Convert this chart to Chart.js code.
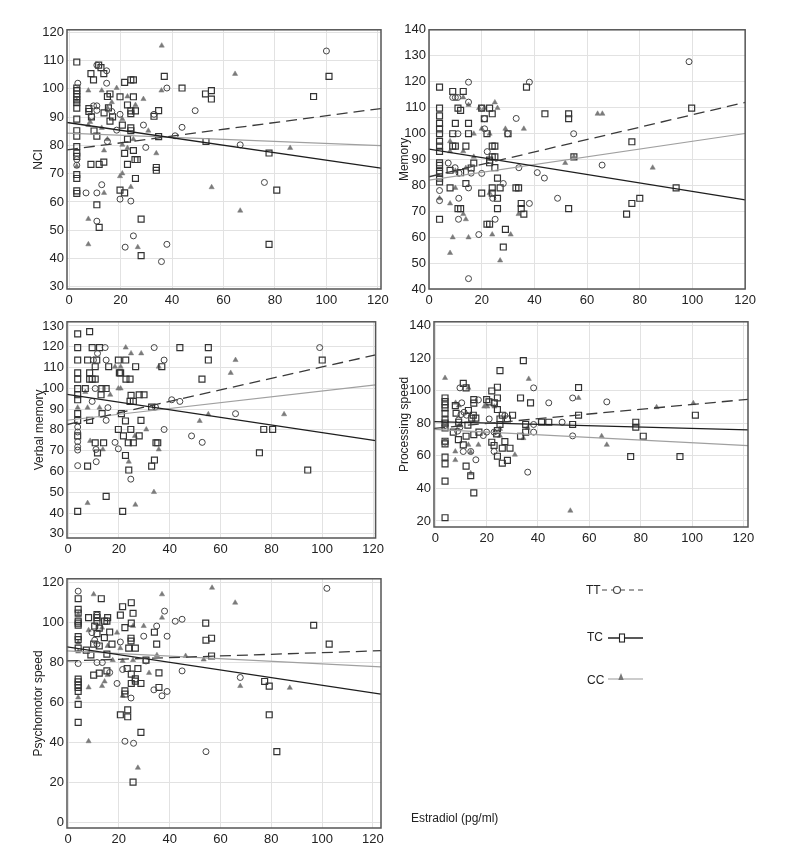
<!DOCTYPE html>
<html>
<head>
<meta charset="utf-8">
<script src="https://cdn.jsdelivr.net/npm/chart.js@4.4.0/dist/chart.umd.min.js"></script>
<style>
  body { margin: 0; background: #fff; width: 792px; height: 864px; position: relative; overflow: hidden; }
  canvas { position: absolute; }
  #overlay { position: absolute; left: 0; top: 0; }
  #overlay text { font-family: "Liberation Sans Narrow", "Liberation Sans", sans-serif; font-size: 12px; fill: #222; }
</style>
</head>
<body>
<canvas id="nci"></canvas>
<canvas id="memory"></canvas>
<canvas id="verbal"></canvas>
<canvas id="processing"></canvas>
<canvas id="psycho"></canvas>
<svg id="overlay" width="792" height="864">
  <text x="586" y="594">TT</text>
  <line x1="602" y1="590" x2="643" y2="590" stroke="#444" stroke-width="1.2" stroke-dasharray="5,4"/>
  <circle cx="617" cy="590" r="3.5" fill="#fff" stroke="#444" stroke-width="1.1"/>
  <text x="587" y="641">TC</text>
  <line x1="608" y1="638" x2="643" y2="638" stroke="#222" stroke-width="1.3"/>
  <rect x="619.5" y="634" width="5" height="8" fill="#fff" stroke="#222" stroke-width="1.1"/>
  <text x="587" y="684">CC</text>
  <line x1="608" y1="679" x2="643" y2="679" stroke="#999" stroke-width="1.2"/>
  <polygon points="621,673 618.3,680 623.7,680" fill="#777"/>
  <text x="411" y="822">Estradiol (pg/ml)</text>
</svg>
<script>
const FONT = '"Liberation Sans Narrow", "Liberation Sans", sans-serif';

const xTicks = [0, 20, 40, 60, 80, 100, 120];

// NCI
const nciTicks = [30, 40, 50, 60, 70, 80, 90, 100, 110, 120];
const nciTT = [[100,113.4],[3.4,102],[10.8,108.4],[14.6,106.4],[14.6,102],[9.5,94],[10.8,94],[10.8,92.4],[16.6,92],[19.8,91],[8.8,90.3],[18.5,85.4],[14.9,81.4],[28.9,87.2],[29.8,79.3],[38,100.3],[49,92.3],[43.9,86.4],[41.2,83.4],[66.5,80.2],[75.9,66.9],[6.6,63.2],[10.8,63.2],[12.7,66.1],[19.8,61],[24,60.3],[10.8,53.2],[25,48],[21.8,44],[38,45],[35.9,38.9],[33,91],[3,75],[3,73]];
const nciTC = [[3,109.5],[3,100.3],[3,99.4],[3,98.2],[3,97.3],[3,96.1],[3,95.1],[3,93.2],[3,89.3],[3,85.2],[3,83.3],[3,79.6],[3,77.3],[3,76.1],[3,69.7],[3,68.3],[3,63.9],[3,63],[8.5,105.4],[9.5,103.2],[11.5,108.4],[12.4,107.5],[13.5,105.4],[7.7,93],[7.7,92],[13.6,91.5],[8.7,90.1],[14.9,97.3],[15.9,98.2],[15.3,93.3],[16.9,90.1],[15.9,88.6],[9.7,85.1],[10.8,83.3],[8.5,73.3],[11.7,73.3],[13.5,74.1],[10.8,59],[11.7,51],[21.6,102.3],[19.8,97.2],[24,103.2],[25,103.2],[25,97.2],[22.7,94.3],[24,92.2],[24,91.2],[25.8,92.2],[20.7,87.2],[24,86.2],[24,85.2],[22.7,82.2],[25,78.2],[21.6,77.2],[25.6,75],[26.5,75],[22.7,73.3],[25.8,68.3],[19.8,64.2],[21.6,63.2],[28,53.9],[28,41],[37,104.4],[34.8,92.3],[33,90.3],[34.8,83.1],[33.9,72.2],[33.9,71.2],[43.9,100.3],[53,98.2],[55.3,99.4],[55.3,96.4],[53.2,81.4],[77.7,77.3],[80.7,64.2],[77.7,45],[95,97.3],[101,104.4]];
const nciCC = [[36,115.3],[64.5,105.3],[3,95.9],[7.5,99.4],[12.7,99.4],[18.5,100.3],[22.7,97.3],[28.9,96.4],[35.9,99.4],[16.6,95.3],[25.8,94.3],[14.9,93.3],[20.7,89.3],[8.2,88.3],[7.5,87.2],[12.7,86.2],[30.8,85.2],[14.9,82.2],[25,82.2],[13.6,78.2],[20.7,80.2],[22.7,79.1],[33.9,77.2],[19.8,69.1],[20.7,70.1],[24,65.3],[13.6,63.2],[3,72.6],[55.4,65.2],[66.5,56.9],[85.9,79.1],[7.5,54],[7.5,45],[26.7,44]];
const nciFits = [[78.5, 92.9], [88, 72.1], [84.3, 80]]; // TT, TC, CC at x=0 and x=120

// Memory
const memTicks = [40, 50, 60, 70, 80, 90, 100, 110, 120, 130, 140];
const memTT = [[98.7,127.7],[15,119.8],[38.1,119.8],[9,113.9],[10,113.9],[10.9,113.9],[15,112.1],[11,99.9],[20,109.8],[21.1,105.7],[22.1,93],[33.1,105.8],[29.8,99.9],[4,78],[4,74.1],[7.3,88.6],[9.9,86.8],[11.4,84.7],[16,84.7],[15,79],[11.3,75],[11.2,66.9],[20,84.6],[24.2,75],[25.1,66.9],[18.9,61],[28.2,80.7],[34.1,86.8],[38.1,73],[41.1,84.9],[43.8,82.8],[48.8,75],[54.9,99.9],[65.7,87.8],[15,44],[21.1,101.8]];
const memTC = [[4,117.9],[4,109.8],[4,106.8],[4,103.9],[4,101.8],[4,99.9],[4,97],[4,95.1],[4,93.1],[4,88.7],[4,87.7],[4,85.6],[4,84.6],[4,82.8],[4,81.3],[4,66.9],[9,116.2],[13,116.2],[9,99.9],[9,95.1],[10,95.1],[14,95.1],[10,103.9],[11,109.8],[12,108.9],[15,103.9],[15,99.9],[8,85.8],[12,84.9],[17,88.6],[16,86.7],[14,80.7],[8,79],[12,71],[11,71],[20,109.8],[23,109.8],[21,105.7],[24,107.6],[22,99.9],[24,95.1],[25,95.1],[24,91],[25,91],[23,89.7],[23,88.7],[25,86.8],[26,82.8],[20,77],[24,77],[24,79],[22,65],[23,65],[26,75],[26,71],[27,79],[29,63],[28.2,56.2],[30,99.9],[33,79],[34,79],[35,73],[35,71],[36,68.9],[37,117.9],[44,107.6],[53,107.6],[53,105.7],[55,91],[53,71],[75,68.9],[77,96.8],[77,73],[80,75],[93.8,79],[99.7,109.8]];
const memCC = [[13,113.9],[15,111],[19,109.8],[20,101.8],[21,109.8],[25,112],[26,109.8],[23,99.9],[17,99.9],[29,101.8],[36,101.8],[8,97],[8,93.1],[13,93.1],[17,91],[10,85.6],[14,86.7],[4,75],[8,73],[10,79],[13,68.9],[14,66.9],[9,59.9],[15,59.9],[8,53.9],[24,61],[31,61],[27,51],[23,77],[34,68.9],[51.7,88.6],[64,107.6],[65.8,107.6],[84.9,86.8],[55,91]];
const memFits = [[83.3, 112], [94, 74.4], [82, 100]];

// Verbal memory
const verbTicks = [30, 40, 50, 60, 70, 80, 90, 100, 110, 120, 130];
const verbTT = [[99,119.6],[33.9,119.6],[37.8,113.6],[14.6,119.6],[11.6,116.8],[10,113.6],[15,113.6],[10.7,99.9],[9.5,93.7],[15.7,90.7],[3.8,81.4],[3.8,79],[3.8,74.3],[3.8,71.9],[3.8,70.3],[3.8,62.8],[15,84.6],[11,70.6],[11.1,64.7],[18.5,74],[19.8,70.9],[24.7,56.3],[34.4,91],[40.8,94.5],[44,93.7],[37.8,80.2],[48.6,77.1],[52.8,74],[65.9,87.8]];
const verbTC = [[3.8,126.2],[3.8,119.6],[3.8,113.6],[3.8,107.4],[3.8,104.4],[3.8,99.9],[3.8,96.9],[3.8,94.5],[3.8,87.8],[3.8,84.6],[3.8,77.1],[8.5,127.3],[9.5,119.6],[12.4,119.6],[7.7,113.6],[11.3,113.6],[10.7,110.4],[8.5,107.4],[8.5,104.4],[9.5,104.4],[10.7,104.4],[6.8,99.9],[13.3,99.9],[15,99.9],[13,96.9],[16,110.4],[19.8,113.6],[22.7,113.6],[20.2,107.4],[20.7,107.4],[22.8,104.4],[24.4,104.4],[26.6,110.4],[24.4,93.7],[25.7,93.7],[24.8,96.6],[28,96.9],[29.9,96.9],[13.4,87.8],[8.5,84.6],[21,87.8],[22.6,84.3],[28.7,84.6],[19.8,80.2],[24.7,80.2],[21.8,77.1],[10.7,73.8],[14,73.8],[23.7,73.8],[25.7,73.8],[11.6,68.9],[7.7,62.6],[22.6,67.7],[23.9,60.7],[28,77.1],[34.6,73.8],[35.3,73.8],[34,65.5],[32.9,62.6],[32.9,91],[36.9,110.4],[44,119.6],[55.2,119.6],[55.2,113.6],[52.7,104.4],[15,48],[3.8,40.8],[21.5,40.8],[75.3,69],[77,80.2],[80.5,80.2],[94.3,60.7],[100,113.6]];
const verbCC = [[22.7,119.6],[24.8,116.8],[28.8,116.8],[18.5,110.4],[20.7,110.4],[19.8,99.9],[20.7,99.9],[6.8,98.2],[3.8,90.7],[7.7,90.7],[12.4,90.7],[16.6,96.9],[8.7,74.7],[13.7,70.6],[26.3,77.1],[30.8,80.2],[35.7,70.6],[23.9,64.7],[7.7,44.8],[26.5,44],[33.8,50.1],[35.7,110.4],[64,107.4],[65.9,113.6],[55.2,87.5],[51.8,84.3],[85,87.5]];
const verbFits = [[82.7, 115.8], [97, 75], [84.7, 101.5]];

// Processing speed
const procTicks = [20, 40, 60, 80, 100, 120, 140];
const procTT = [[9.6,101.8],[10.3,92.6],[11.2,86.8],[12.2,85],[10,85.4],[9.1,82.1],[9.6,77.6],[8.7,75.2],[3.8,68.4],[3.8,78.7],[10.9,62.7],[13.8,62.7],[15.8,57.6],[16.8,94.4],[18.7,72.5],[21,82.7],[20,74.6],[22.9,62.7],[22.9,74.6],[27.1,84.8],[22.9,92.6],[38.3,79.3],[38.3,74.6],[38.3,101.8],[44.2,92.6],[36,50],[49.4,80.7],[53.5,95.6],[53.5,72.3],[66.8,93.2]];
const procTC = [[3.8,95.6],[3.8,93.4],[3.8,91.3],[3.8,89.5],[3.8,86.2],[3.8,82.1],[3.8,80.1],[3.8,77.2],[3.8,69],[3.8,67.4],[3.8,59.2],[3.8,55.1],[3.8,44.5],[3.8,22],[10.9,104.6],[12,101.8],[7.8,90.9],[8.1,86.2],[9.1,80.7],[7,74.6],[9,70],[10.9,66.8],[12,72.1],[12,53.7],[12.7,78.9],[12.9,87.9],[14.2,83.2],[14.8,85],[15.8,83.2],[15,73.1],[13.8,47.8],[15,37.3],[15,94.6],[15,92.4],[17,74.6],[20,94.6],[20.9,93.2],[22,99.9],[24.2,102.2],[23,92.6],[24.2,95.6],[24.2,88.5],[25.2,112.4],[25.2,82.7],[26.1,85],[25.2,79.3],[24.2,75.6],[23.9,73.5],[22,68.4],[22.9,66.4],[26.1,64.7],[24.2,59.8],[27.1,68.8],[29.1,64.7],[28.1,57.2],[26.1,55.5],[28.1,82.7],[30.1,85],[33.2,95.6],[34.3,118.5],[35.2,79.3],[35.2,74.6],[37.1,92.6],[33.2,72.1],[41.4,80.7],[44.2,80.7],[53.5,79.3],[55.8,102],[55.8,85],[76.1,59.6],[78.1,80.7],[78.1,77.6],[81,72.1],[95.3,59.6],[101.3,85]];
const procCC = [[3.8,107.9],[36.4,107.3],[12.9,101.8],[7.9,92.6],[9.2,90.9],[19.1,90.3],[20.3,90.3],[23,90.3],[55.8,95.6],[86.2,89.9],[100.5,92.4],[64.8,72.1],[66.8,66.8],[7.8,62.7],[7.8,57.4],[13.8,62.3],[12.9,66.8],[16.8,66.8],[13.8,49.4],[25.2,72.3],[31,60.7],[34.3,70.9],[36,77.2],[52.6,26.3],[9.6,78.7],[25.2,76.6]];
const procFits = [[77, 94.5], [81, 76.1], [76.3, 66.5]];

// Psychomotor speed
const psyTicks = [0, 20, 40, 60, 80, 100, 120];
const psyTT = [[101.9,117.2],[4,115.8],[4,79.5],[11.4,103.8],[9.4,95],[10.5,91.2],[11.4,80],[13.5,80],[11.4,89.2],[16.4,75],[19.3,69.5],[20.6,90.3],[21.5,76.5],[24.8,62.2],[22.4,40.5],[25.8,39.5],[29.8,93.2],[30.7,80.8],[34.9,98.3],[33.8,66.3],[37,63.3],[38,105.8],[39,93.2],[39,65.5],[42.2,100.7],[44.9,101.7],[44.9,75.8],[54.3,35.3],[67.8,72.5]];
const psyTC = [[4,112],[4,106.7],[4,104.8],[4,100.8],[4,99.8],[4,98.7],[4,93],[4,91.5],[4,87.2],[4,71.7],[4,70.3],[4,68.8],[4,67.5],[4,65.5],[4,59],[4,50],[13.1,112],[8.1,102.5],[10.5,98.3],[11.4,102.5],[11.4,104],[11.4,100.7],[12.3,97.2],[10.1,89.2],[7.2,86.2],[9,83.8],[11.4,94.5],[12.3,88.3],[14.4,100.8],[15.3,100.8],[15.6,102.5],[16.4,95.3],[15.3,84.2],[14.3,92.5],[10.1,73.7],[12.3,74.7],[15.3,75.8],[17.3,89.2],[21.5,108],[20.6,103.8],[25.6,104.7],[24.9,110],[24.9,99.8],[24.8,92.2],[24.8,90.8],[23.9,87.2],[26.5,87.2],[22.4,97.5],[27.5,77],[23.3,77],[24.9,74.2],[26.5,71.8],[26.5,70.7],[24.9,69.5],[28.7,69.5],[22.4,65.8],[22.4,64.2],[23.5,56.3],[23.5,52.8],[20.6,53.8],[28.7,45],[25.6,20],[30.7,81.2],[34,95.2],[34.9,89.2],[35.8,74.8],[35.8,67.5],[54.2,99.8],[54.3,91.2],[56.5,92.2],[56.5,83.3],[77.4,70.5],[79.2,68.2],[79.2,53.8],[82.2,35.3],[96.7,98.7],[102.8,89.2]];
const psyCC = [[10.1,114.2],[37,114.2],[56.7,117.5],[65.8,110],[4,104.2],[4,90],[4,85.5],[4,62.5],[8.1,96.2],[13.4,97.5],[19.3,95],[20.6,87.2],[25.6,98.3],[29.8,98.3],[37,102.5],[15.6,88.3],[17.6,81.2],[21.5,80.8],[25.6,81.2],[8.1,67.5],[13.4,68.2],[14.4,70.5],[15.6,73.7],[31.9,74.8],[21.5,63.3],[35,83.7],[46.3,83.3],[53.4,81.5],[67.8,68.2],[87.3,67.3],[8.1,40.5],[27.5,27.2]];
const psyFits = [[80.8, 85.8], [87.8, 64.8], [85.8, 78]];

// layout: plot box [left, top, right, bottom] in page px, axis ranges, title offset from plot
const panels = [
  { id: 'nci', title: 'NCI', box: [67, 29, 381, 289], x: [-0.8, 121.2], y: [29.2, 120.9], yTicks: nciTicks, titleGap: 28, data: [nciTT, nciTC, nciCC], fits: nciFits },
  { id: 'memory', title: 'Memory', box: [429, 29, 748, 289], x: [0, 120], y: [40, 140], yTicks: memTicks, titleGap: 24, data: [memTT, memTC, memCC], fits: memFits },
  { id: 'verbal', title: 'Verbal memory', box: [67, 321, 376, 538], x: [-0.4, 121], y: [28, 132], yTicks: verbTicks, titleGap: 27, data: [verbTT, verbTC, verbCC], fits: verbFits },
  { id: 'processing', title: 'Processing speed', box: [434, 321, 748, 527], x: [-0.5, 121.8], y: [16.3, 142.4], yTicks: procTicks, titleGap: 29, data: [procTT, procTC, procCC], fits: procFits },
  { id: 'psycho', title: 'Psychomotor speed', box: [67, 578, 381, 828], x: [-0.4, 123.2], y: [-3, 122], yTicks: psyTicks, titleGap: 28, data: [psyTT, psyTC, psyCC], fits: psyFits }
];

const AXIS_W = 60, AXIS_H = 30, PAD_TOP = 10, PAD_RIGHT = 12;

const frame = {
  id: 'frame',
  afterDatasetsDraw(chart) {
    const { ctx, chartArea: { left, top, right, bottom } } = chart;
    ctx.save();
    ctx.strokeStyle = '#555';
    ctx.lineWidth = 1.5;
    ctx.strokeRect(left, top, right - left, bottom - top);
    ctx.restore();
  }
};

function fitLine([y0, y120], xMin, xMax) {
  const at = x => y0 + (y120 - y0) * x / 120;
  return [{ x: xMin, y: at(xMin) }, { x: xMax, y: at(xMax) }];
}

const toPts = arr => arr.map(([x, y]) => ({ x, y }));

panels.forEach(p => {
  const [l, t, r, b] = p.box;
  const canvas = document.getElementById(p.id);
  canvas.width = AXIS_W + (r - l) + PAD_RIGHT;
  canvas.height = PAD_TOP + (b - t) + AXIS_H;
  canvas.style.left = (l - AXIS_W) + 'px';
  canvas.style.top = (t - PAD_TOP) + 'px';

  const [tt, tc, cc] = p.data;
  const [fTT, fTC, fCC] = p.fits;
  const [xMin, xMax] = p.x;

  new Chart(canvas, {
    type: 'scatter',
    data: {
      datasets: [
        { data: fitLine(fTT, xMin, xMax), showLine: true, pointRadius: 0, borderColor: '#3a3a3a', borderWidth: 1.3, borderDash: [11, 6] },
        { data: fitLine(fTC, xMin, xMax), showLine: true, pointRadius: 0, borderColor: '#1e1e1e', borderWidth: 1.3 },
        { data: fitLine(fCC, xMin, xMax), showLine: true, pointRadius: 0, borderColor: '#a0a0a0', borderWidth: 1.2 },
        { data: toPts(tt), pointStyle: 'circle', pointRadius: 3, borderColor: '#444', backgroundColor: 'rgba(0,0,0,0)', borderWidth: 1 },
        { data: toPts(tc), pointStyle: 'rect', pointRadius: 4.2, borderColor: '#333', backgroundColor: 'rgba(0,0,0,0)', borderWidth: 1.2 },
        { data: toPts(cc), pointStyle: 'triangle', pointRadius: 3, borderColor: '#7a7a7a', backgroundColor: '#7a7a7a', borderWidth: 0.5 }
      ]
    },
    options: {
      responsive: false,
      animation: false,
      layout: { padding: { top: PAD_TOP, right: PAD_RIGHT, left: 0, bottom: 0 } },
      plugins: { legend: { display: false }, tooltip: { enabled: false } },
      scales: {
        x: {
          min: xMin, max: xMax,
          afterBuildTicks: s => { s.ticks = xTicks.map(v => ({ value: v })); },
          afterFit: s => { s.height = AXIS_H; },
          grid: { color: '#e2e2e2', drawTicks: false },
          border: { display: false },
          ticks: { padding: 4, color: '#222', font: { family: FONT, size: 13 }, maxRotation: 0 }
        },
        y: {
          min: p.y[0], max: p.y[1],
          afterBuildTicks: s => { s.ticks = p.yTicks.map(v => ({ value: v })); },
          afterFit: s => { s.width = AXIS_W; },
          grid: { color: '#e2e2e2', drawTicks: false },
          border: { display: false },
          ticks: { padding: 3, color: '#222', font: { family: FONT, size: 13 } },
          title: {
            display: true, text: p.title, color: '#222',
            font: { family: FONT, size: 12 },
            padding: { top: AXIS_W - p.titleGap - 7.2, bottom: 0 }
          }
        }
      }
    },
    plugins: [frame]
  });
});
</script>
</body>
</html>
